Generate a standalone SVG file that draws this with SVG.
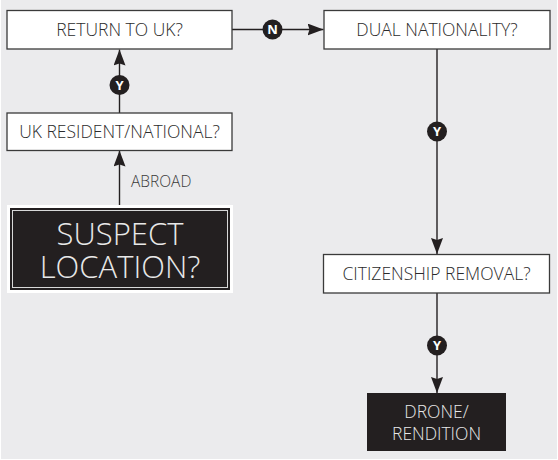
<svg xmlns="http://www.w3.org/2000/svg" width="558" height="460" viewBox="0 0 558 460">
  <defs>
    <style>
      .box { fill: #ffffff; stroke: #3a3a3a; stroke-width: 1.3; }
      .dark { fill: #231f20; }
      .lbl { font-family: "Open Sans", "Liberation Sans", sans-serif; font-weight: 300; font-size: 17.5px; fill: #2b2b2b; text-anchor: middle; }
      .lbl-inv { font-family: "Open Sans", "Liberation Sans", sans-serif; font-weight: 300; fill: #e8e8e8; text-anchor: middle; }
      .edge { stroke: #231f20; stroke-width: 1.4; fill: none; }
      .badge { fill: #231f20; }
      .badge-t { font-family: "Open Sans", "Liberation Sans", sans-serif; font-weight: 700; font-size: 13px; fill: #ffffff; text-anchor: middle; }
      .note { font-family: "Open Sans", "Liberation Sans", sans-serif; font-weight: 300; font-size: 15.5px; fill: #3a3a3a; }
    </style>
    <marker id="arrow" viewBox="0 0 16 12" refX="16" refY="6" markerWidth="16" markerHeight="12" markerUnits="userSpaceOnUse" orient="auto">
      <path d="M0,0 L16,6 L0,12 L2,6 Z" fill="#231f20"/>
    </marker>
  </defs>

  <!-- page -->
  <rect x="0" y="0" width="558" height="460" fill="#ffffff"/>
  <rect x="1" y="0" width="556" height="459" fill="#ebebed"/>

  <!-- connectors -->
  <g id="connectors">
    <line class="edge" x1="119.5" y1="205" x2="119.5" y2="150.5" marker-end="url(#arrow)"/>
    <line class="edge" x1="119.5" y1="113" x2="119.5" y2="49.5" marker-end="url(#arrow)"/>
    <line class="edge" x1="232" y1="29.5" x2="323.5" y2="29.5" marker-end="url(#arrow)"/>
    <line class="edge" x1="437" y1="49" x2="437" y2="254" marker-end="url(#arrow)"/>
    <line class="edge" x1="437" y1="293" x2="437" y2="393" marker-end="url(#arrow)"/>

    <text class="note" x="131" y="187">ABROAD</text>

    <circle class="badge" cx="119.5" cy="85" r="10"/>
    <text class="badge-t" x="119.5" y="89.7">Y</text>
    <circle class="badge" cx="272.5" cy="29.5" r="10"/>
    <text class="badge-t" x="272.5" y="34.2">N</text>
    <circle class="badge" cx="437" cy="131.5" r="10"/>
    <text class="badge-t" x="437" y="136.2">Y</text>
    <circle class="badge" cx="437" cy="345.5" r="10"/>
    <text class="badge-t" x="437" y="350.2">Y</text>
  </g>

  <!-- nodes -->
  <g id="return-uk">
    <rect class="box" x="7" y="10.5" width="225" height="38.5"/>
    <text class="lbl" x="119.5" y="36">RETURN TO UK?</text>
  </g>

  <g id="dual-nationality">
    <rect class="box" x="324" y="10.5" width="226" height="38.5"/>
    <text class="lbl" x="437" y="36">DUAL NATIONALITY?</text>
  </g>

  <g id="uk-resident">
    <rect class="box" x="7" y="113" width="225" height="37.5"/>
    <text class="lbl" x="119.5" y="138">UK RESIDENT/NATIONAL?</text>
  </g>

  <g id="suspect-location">
    <rect x="7" y="205" width="226" height="88" fill="#ffffff"/>
    <rect class="dark" x="10" y="208" width="220" height="82"/>
    <rect x="12.5" y="210.5" width="215" height="77" fill="none" stroke="#d8d8d8" stroke-width="1"/>
    <text class="lbl-inv" x="120" y="245" font-size="31">SUSPECT</text>
    <text class="lbl-inv" x="120" y="278" font-size="31">LOCATION?</text>
  </g>

  <g id="citizenship-removal">
    <rect class="box" x="323.5" y="254.5" width="226" height="38.5"/>
    <text class="lbl" x="436.5" y="280">CITIZENSHIP REMOVAL?</text>
  </g>

  <g id="drone-rendition">
    <rect class="dark" x="367" y="393" width="139" height="58"/>
    <text class="lbl-inv" x="436.5" y="418" font-size="17.5">DRONE/</text>
    <text class="lbl-inv" x="436.5" y="440" font-size="17.5">RENDITION</text>
  </g>
</svg>
